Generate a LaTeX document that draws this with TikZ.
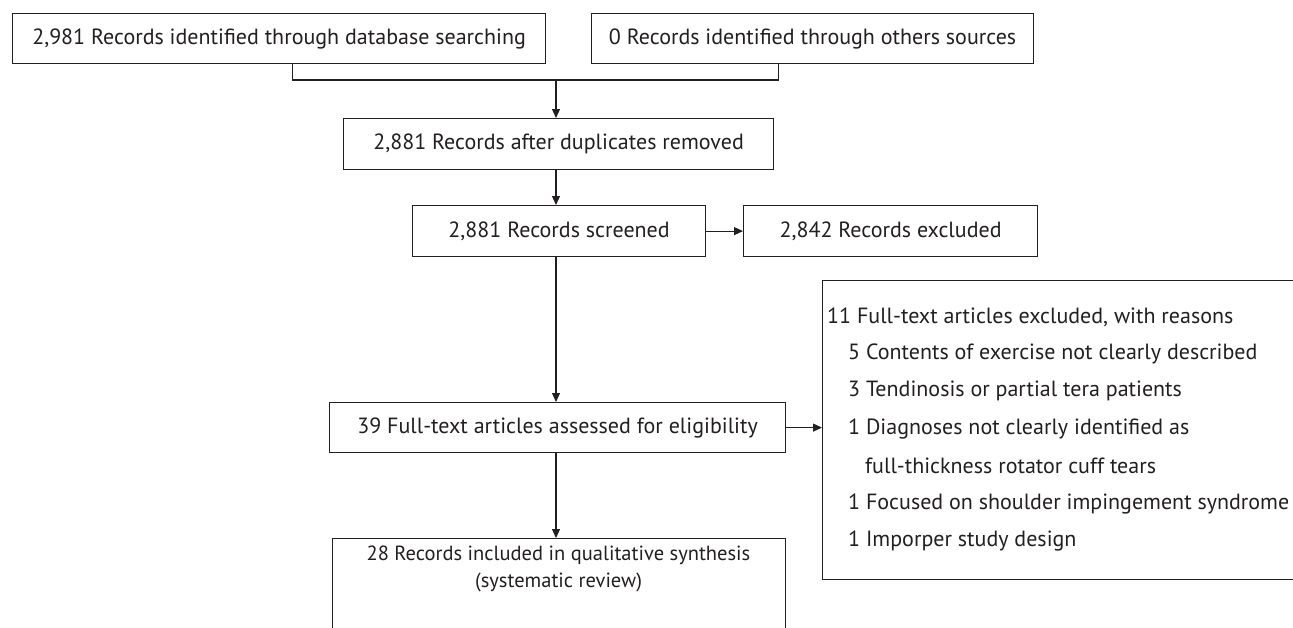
\documentclass[tikz,border=0pt]{standalone}
\usepackage{fontspec}
\setmainfont{PT Sans}
\usetikzlibrary{arrows.meta}
\definecolor{ink}{HTML}{231F20}
\begin{document}
\begin{tikzpicture}[x=1pt,y=-1pt,
  every node/.style={text=ink,font=\fontsize{22}{26}\selectfont},
  box/.style={draw=ink,line width=1.2pt,inner sep=0pt,anchor=north west},
  arr/.style={draw=ink,line width=1.1pt,-{Triangle[length=9pt,width=8pt]}},
  link/.style={draw=ink,line width=1.1pt},
  listline/.style={anchor=west,inner sep=0pt}]
\useasboundingbox (0,0) rectangle (1293,627);
\clip (0,0) rectangle (1293,627);
\fill[white] (0,0) rectangle (1293,627);

% identification
\node[box,minimum width=533pt,minimum height=50pt] (b1) at (12,13) {};
\node at (b1.center) {2,981 Records identified through database searching};
\node[box,minimum width=442pt,minimum height=50pt] (b2) at (591,13) {};
\node at (b2.center) {0 Records identified through others sources};

% screening
\node[box,minimum width=430pt,minimum height=51pt] (b3) at (343,118) {};
\node at (b3.center) {2,881 Records after duplicates removed};
\node[box,minimum width=293pt,minimum height=51pt] (b4) at (412,205) {};
\node at (b4.center) {2,881 Records screened};
\node[box,minimum width=294pt,minimum height=51pt] (b5) at (743,205) {};
\node at (b5.center) {2,842 Records excluded};

% eligibility
\node[box,minimum width=456pt,minimum height=50pt] (b6) at (329,402) {};
\node at (b6.center) {39 Full-text articles assessed for eligibility};
\node[box,minimum width=520pt,minimum height=299pt] (b8) at (822,280) {};
\node[listline] (r1) at (827,317) {11 Full-text articles excluded, with reasons};
\node[listline] (r2) at (848,354) {5 Contents of exercise not clearly described};
\node[listline] (r3) at (848,391) {3 Tendinosis or partial tera patients};
\node[listline] (r4) at (848,429) {1 Diagnoses not clearly identified as};
\node[listline] (r5) at (865,466) {full-thickness rotator cuff tears};
\node[listline] (r6) at (848,504) {1 Focused on shoulder impingement syndrome};
\node[listline] (r7) at (848,541) {1 Imporper study design};

% included
\node[box,minimum width=453pt,minimum height=120pt] (b7) at (332,538) {};
\node[align=center,font=\fontsize{20.5}{27}\selectfont] (t7) at (558.5,569)
  {28 Records included in qualitative synthesis\\(systematic review)};

% connectors
\coordinate (join) at (556,80);
\draw[link] ([xshift=13.5pt]b1.south) |- (join) -| ([xshift=-34pt]b2.south);
\draw[arr] (join) -- (join |- b3.north);
\draw[arr] (join |- b3.south) -- (join |- b4.north);
\draw[arr] (b4.east) -- (b5.west);
\draw[arr] (join |- b4.south) -- (join |- b6.north);
\draw[arr] (b6.east) -- (b6.east -| b8.west);
\draw[arr] (join |- b6.south) -- (join |- b7.north);
\end{tikzpicture}
\end{document}
